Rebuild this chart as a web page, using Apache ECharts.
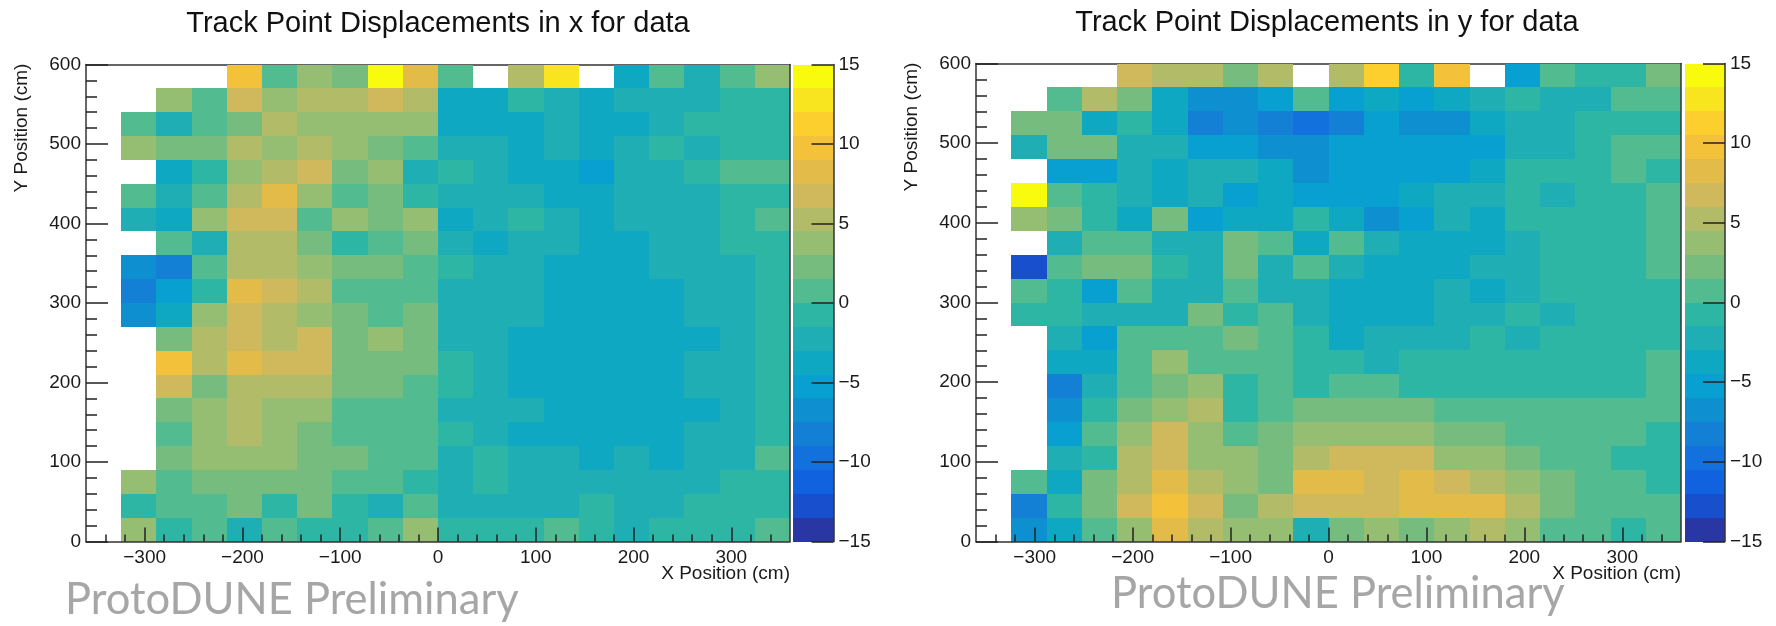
<!DOCTYPE html>
<html>
<head>
<meta charset="utf-8">
<style>html,body{margin:0;padding:0;background:#fff}#c{width:1776px;height:626px}</style>
<script src="https://cdn.jsdelivr.net/npm/echarts@6/dist/echarts.min.js"></script>
</head>
<body>
<div id="c"></div>
<script>
const titles = ['Track Point Displacements in x for data', 'Track Point Displacements in y for data'];
const xAxisName = 'X Position (cm)';
const yAxisName = 'Y Position (cm)';
const watermark = 'ProtoDUNE Preliminary';
const xBinWidth = 36, yBinWidth = 30;
const xMajorTicks = [-300, -200, -100, 0, 100, 200, 300];
const xMinorTicks = [-340,-320,-280,-260,-240,-220,-180,-160,-140,-120,-80,-60,-40,-20,20,40,60,80,120,140,160,180,220,240,260,280,320,340];
const colorbarColors = ['#2837A3','#174FCC','#1062DE','#1271DC','#1380D6','#0E90D0','#08A0D0','#0EA8C3','#1FAEB3','#2EB6A4','#53BB90','#77BC7F','#95BE72','#B2BB67','#D0B85C','#E2BB49','#F4C13A','#FCCE2E','#F9E51F','#F9FB0E'];
const _ = null;
// rows run from Y=0-30 (first) to Y=570-600 (last); columns from X=-360 to X=360
const displacementX = [
[_,3.75,-.75,.75,-2.25,.75,-.75,-.75,.75,3.75,-.75,-.75,-.75,.75,-.75,-2.25,-.75,-.75,-.75,.75],
[_,-.75,.75,.75,2.25,-.75,2.25,-.75,-2.25,.75,-2.25,-2.25,-2.25,-2.25,-.75,-2.25,-2.25,-.75,-.75,-.75],
[_,3.75,.75,2.25,2.25,2.25,2.25,.75,.75,-.75,-2.25,-.75,-2.25,-2.25,-2.25,-2.25,-2.25,-2.25,-.75,-.75],
[_,_,2.25,3.75,3.75,3.75,2.25,2.25,.75,.75,-2.25,-.75,-2.25,-2.25,-3.75,-2.25,-3.75,-2.25,-2.25,.75],
[_,_,.75,3.75,5.25,3.75,2.25,.75,.75,.75,-.75,-2.25,-3.75,-3.75,-3.75,-3.75,-3.75,-2.25,-2.25,-.75],
[_,_,2.25,3.75,5.25,3.75,3.75,.75,.75,.75,-2.25,-2.25,-2.25,-3.75,-3.75,-3.75,-3.75,-3.75,-2.25,-.75],
[_,_,6.75,2.25,5.25,5.25,5.25,2.25,2.25,.75,-.75,-2.25,-3.75,-3.75,-3.75,-3.75,-3.75,-2.25,-2.25,-.75],
[_,_,9.75,5.25,8.25,6.75,6.75,2.25,2.25,2.25,-.75,-2.25,-3.75,-3.75,-3.75,-3.75,-3.75,-2.25,-2.25,-.75],
[_,_,2.25,5.25,6.75,5.25,6.75,2.25,3.75,2.25,-2.25,-2.25,-3.75,-3.75,-3.75,-3.75,-3.75,-3.75,-2.25,-.75],
[_,-6.75,-3.75,3.75,6.75,5.25,3.75,2.25,.75,2.25,-2.25,-2.25,-2.25,-3.75,-3.75,-3.75,-3.75,-2.25,-2.25,-.75],
[_,-8.25,-5.25,-.75,8.25,6.75,5.25,.75,.75,.75,-2.25,-2.25,-2.25,-3.75,-3.75,-3.75,-3.75,-2.25,-2.25,-.75],
[_,-6.75,-8.25,.75,5.25,5.25,3.75,2.25,2.25,.75,-.75,-2.25,-2.25,-3.75,-3.75,-3.75,-2.25,-2.25,-2.25,-.75],
[_,_,.75,-2.25,5.25,5.25,2.25,-.75,.75,2.25,-2.25,-3.75,-2.25,-2.25,-3.75,-3.75,-2.25,-2.25,-.75,-.75],
[_,-2.25,-3.75,3.75,6.75,6.75,.75,3.75,2.25,3.75,-3.75,-2.25,-.75,-2.25,-3.75,-2.25,-2.25,-2.25,-.75,.75],
[_,.75,-2.25,.75,5.25,8.25,3.75,.75,2.25,-.75,-2.25,-2.25,-2.25,-3.75,-3.75,-2.25,-2.25,-2.25,-.75,-.75],
[_,_,-3.75,-.75,3.75,5.25,6.75,2.25,3.75,-2.25,-.75,-2.25,-3.75,-3.75,-5.25,-2.25,-2.25,-.75,.75,.75],
[_,3.75,2.25,2.25,5.25,3.75,5.25,3.75,2.25,.75,-2.25,-2.25,-3.75,-2.25,-3.75,-2.25,-.75,-2.25,-.75,-.75],
[_,.75,-2.25,.75,2.25,5.25,3.75,3.75,3.75,3.75,-3.75,-3.75,-3.75,-2.25,-3.75,-3.75,-2.25,-.75,-.75,-.75],
[_,_,3.75,.75,6.75,3.75,5.25,5.25,6.75,5.25,-3.75,-3.75,-.75,-2.25,-3.75,-2.25,-2.25,-2.25,-.75,-.75],
[_,_,_,_,9.75,.75,3.75,2.25,14.25,8.25,.75,_,5.25,12.75,_,-3.75,.75,-2.25,.75,3.75]
];
const displacementY = [
[_,-6.75,-3.75,.75,3.75,8.25,5.25,3.75,3.75,-2.25,2.25,3.75,2.25,3.75,5.25,3.75,.75,.75,-.75,.75],
[_,-8.25,-.75,2.25,6.75,9.75,6.75,2.25,5.25,6.75,6.75,6.75,8.25,8.25,8.25,5.25,2.25,.75,.75,.75],
[_,.75,-3.75,2.25,5.25,8.25,5.25,3.75,2.25,8.25,8.25,6.75,8.25,6.75,5.25,3.75,2.25,.75,.75,-.75],
[_,_,-2.25,-.75,5.25,6.75,3.75,3.75,2.25,5.25,6.75,6.75,6.75,3.75,3.75,2.25,.75,.75,-.75,-.75],
[_,_,-5.25,.75,3.75,6.75,3.75,.75,2.25,3.75,3.75,3.75,3.75,2.25,2.25,.75,.75,.75,.75,-.75],
[_,_,-6.75,-.75,2.25,3.75,5.25,-.75,.75,2.25,2.25,2.25,2.25,.75,.75,.75,.75,.75,.75,.75],
[_,_,-8.25,-2.25,.75,2.25,3.75,-.75,.75,-.75,.75,.75,-.75,-.75,-.75,-.75,-.75,-.75,-.75,.75],
[_,_,-3.75,-3.75,.75,3.75,.75,.75,.75,-.75,-.75,-2.25,-.75,-.75,-.75,-.75,-.75,-.75,-.75,.75],
[_,_,-2.25,-5.25,.75,.75,.75,2.25,.75,-.75,-3.75,-2.25,-2.25,-2.25,-.75,-2.25,-.75,-.75,-.75,-.75],
[_,-.75,-.75,-2.25,-2.25,-2.25,2.25,-.75,.75,-2.25,-3.75,-3.75,-3.75,-2.25,-2.25,-.75,-2.25,-.75,-.75,-.75],
[_,.75,-.75,-5.25,.75,-2.25,-2.25,.75,-2.25,-2.25,-3.75,-3.75,-3.75,-2.25,-3.75,-2.25,-.75,-.75,-.75,-.75],
[_,-12.75,.75,2.25,2.25,-.75,-2.25,2.25,-2.25,.75,-2.25,-3.75,-3.75,-3.75,-2.25,-2.25,-.75,-.75,-.75,.75],
[_,_,-2.25,.75,.75,-2.25,-2.25,2.25,.75,-3.75,.75,-2.25,-3.75,-3.75,-3.75,-2.25,-.75,-.75,-.75,.75],
[_,3.75,2.25,-.75,-3.75,2.25,-5.25,-3.75,-3.75,-.75,-3.75,-6.75,-5.25,-2.25,-3.75,-.75,-.75,-.75,-.75,.75],
[_,14.25,.75,-.75,-2.25,-3.75,-2.25,-5.25,-3.75,-5.25,-5.25,-5.25,-3.75,-2.25,-2.25,-.75,-2.25,-.75,-.75,.75],
[_,_,-5.25,-5.25,-2.25,-3.75,-2.25,-2.25,-3.75,-6.75,-5.25,-5.25,-5.25,-5.25,-3.75,-.75,-.75,-.75,.75,-.75],
[_,-2.25,2.25,2.25,-2.25,-2.25,-5.25,-5.25,-6.75,-6.75,-5.25,-5.25,-5.25,-5.25,-5.25,-2.25,-2.25,-.75,.75,.75],
[_,2.25,2.25,-3.75,-.75,-3.75,-8.25,-6.75,-8.25,-9.75,-8.25,-5.25,-6.75,-6.75,-3.75,-2.25,-2.25,-.75,-.75,-.75],
[_,_,.75,5.25,2.25,-3.75,-6.75,-6.75,-5.25,.75,-5.25,-3.75,-5.25,-3.75,-2.25,-.75,-2.25,-2.25,.75,.75],
[_,_,_,_,6.75,5.25,5.25,2.25,5.25,_,5.25,11.25,-.75,9.75,_,-5.25,.75,-.75,-.75,2.25]
];

function levelColor(v) {
  const i = Math.min(19, Math.max(0, Math.floor((v + 15) / 1.5)));
  return colorbarColors[i];
}
function cellData(rows) {
  const out = [];
  rows.forEach((row, r) => row.forEach((v, c) => {
    if (v !== null) out.push([-360 + c * xBinWidth, r * yBinWidth, v]);
  }));
  return out;
}
function rectBetween(a, b, col) {
  const x0 = Math.round(a[0]), y0 = Math.round(a[1]), x1 = Math.round(b[0]), y1 = Math.round(b[1]);
  return {type: 'rect', shape: {x: x0, y: y0, width: x1 - x0, height: y1 - y0}, style: {fill: col}};
}
function renderCell(params, api) {
  const x0 = api.value(0), y0 = api.value(1), v = api.value(2);
  return rectBetween(api.coord([x0, y0 + yBinWidth]), api.coord([x0 + xBinWidth, y0]), levelColor(v));
}
function renderBar(params, api) {
  const low = api.value(1);
  return rectBetween(api.coord([0, low + 1.5]), api.coord([1, low]), colorbarColors[params.dataIndex]);
}
const minus = v => String(v).replace('-', '\u2212');
const lineCol = '#333';
const labelStyle = {color: '#1a1a1a', fontFamily: '"Liberation Sans"', fontSize: 19};

const panels = [
  {plot: {left: 86, top: 64.5, width: 704, height: 477}, bar: {left: 793, top: 64.5, width: 40.5, height: 477}, rows: displacementX},
  {plot: {left: 976, top: 63.5, width: 705, height: 478}, bar: {left: 1684.5, top: 63.5, width: 40.5, height: 478}, rows: displacementY}
];

const grid = [], xAxis = [], yAxis = [], series = [];
panels.forEach((p) => {
  const gi = grid.length;
  grid.push(p.plot, p.bar);
  const xi = xAxis.length, yi = yAxis.length;
  const line = {show: true, onZero: false, lineStyle: {color: lineCol, width: 1.5}};
  // X: bottom major axis with labels, bottom minor axis, top frame line
  xAxis.push(
    {type: 'value', gridIndex: gi, position: 'bottom', min: -360, max: 360, z: 5, splitLine: {show: false}, axisLine: line,
     axisTick: {show: true, inside: true, length: 14, customValues: xMajorTicks, lineStyle: {color: '#222', width: 1.5}},
     axisLabel: {...labelStyle, show: true, margin: 7, customValues: xMajorTicks, formatter: minus, hideOverlap: false}},
    {type: 'value', gridIndex: gi, position: 'bottom', min: -360, max: 360, z: 5, splitLine: {show: false}, axisLine: {show: false, onZero: false},
     axisTick: {show: true, inside: true, length: 7, customValues: xMinorTicks, lineStyle: {color: '#222', width: 1.5}},
     axisLabel: {show: false}},
    {type: 'value', gridIndex: gi, position: 'top', min: -360, max: 360, z: 0, splitLine: {show: false}, axisLine: line,
     axisTick: {show: false}, axisLabel: {show: false}},
    // colorbar horizontal extent
    {type: 'value', gridIndex: gi + 1, min: 0, max: 1, show: false}
  );
  yAxis.push(
    {type: 'value', gridIndex: gi, position: 'left', min: 0, max: 600, interval: 100, z: 5, splitLine: {show: false}, axisLine: line,
     axisTick: {show: true, inside: true, length: 22, lineStyle: {color: '#222', width: 1.5}},
     minorTick: {show: true, splitNumber: 5, length: 11, lineStyle: {color: '#222', width: 1.5}},
     axisLabel: {...labelStyle, margin: 5}},
    {type: 'value', gridIndex: gi, position: 'right', min: 0, max: 600, z: 5, splitLine: {show: false}, axisLine: line,
     axisTick: {show: false}, axisLabel: {show: false}},
    {type: 'value', gridIndex: gi + 1, position: 'right', min: -15, max: 15, interval: 5, z: 5, splitLine: {show: false}, axisLine: line,
     axisTick: {show: true, inside: true, length: 22, lineStyle: {color: '#222', width: 1.5}},
     axisLabel: {...labelStyle, margin: 5, formatter: minus}}
  );
  series.push({
    type: 'custom', xAxisIndex: xi, yAxisIndex: yi, z: 2, silent: true, renderItem: renderCell,
    encode: {x: 0, y: 1}, data: cellData(p.rows), animation: false
  }, {
    type: 'custom', xAxisIndex: xi + 3, yAxisIndex: yi + 2, z: 2, silent: true, renderItem: renderBar,
    encode: {x: 0, y: 1}, data: colorbarColors.map((c, i) => [0, -15 + i * 1.5]), animation: false
  });
});

const txt = (x, y, text, extra) => ({type: 'text', x, y, z: 20, silent: true,
  style: {text, fill: '#1a1a1a', fontFamily: '"Liberation Sans"', fontSize: 19, ...extra}});
const graphic = [
  txt(438, 24, titles[0], {fontSize: 29, textAlign: 'center', textVerticalAlign: 'middle', fill: '#111'}),
  txt(1327, 23, titles[1], {fontSize: 29, textAlign: 'center', textVerticalAlign: 'middle', fill: '#111'}),
  txt(790, 574, xAxisName, {textAlign: 'right', textVerticalAlign: 'middle'}),
  txt(1681, 574, xAxisName, {textAlign: 'right', textVerticalAlign: 'middle'}),
  {...txt(22, 128, yAxisName, {textAlign: 'center', textVerticalAlign: 'middle'}), rotation: Math.PI / 2},
  {...txt(912, 127, yAxisName, {textAlign: 'center', textVerticalAlign: 'middle'}), rotation: Math.PI / 2},
  txt(65, 600, watermark, {fontFamily: 'Lato', fontSize: 43.5, fill: '#A6A6A6', textAlign: 'left', textVerticalAlign: 'middle'}),
  txt(1111, 594, watermark, {fontFamily: 'Lato', fontSize: 43.5, fill: '#A6A6A6', textAlign: 'left', textVerticalAlign: 'middle'})
];

const chart = echarts.init(document.getElementById('c'), null, {renderer: 'canvas'});
chart.setOption({animation: false, backgroundColor: '#fff', grid, xAxis, yAxis, series, graphic});
</script>
</body>
</html>
